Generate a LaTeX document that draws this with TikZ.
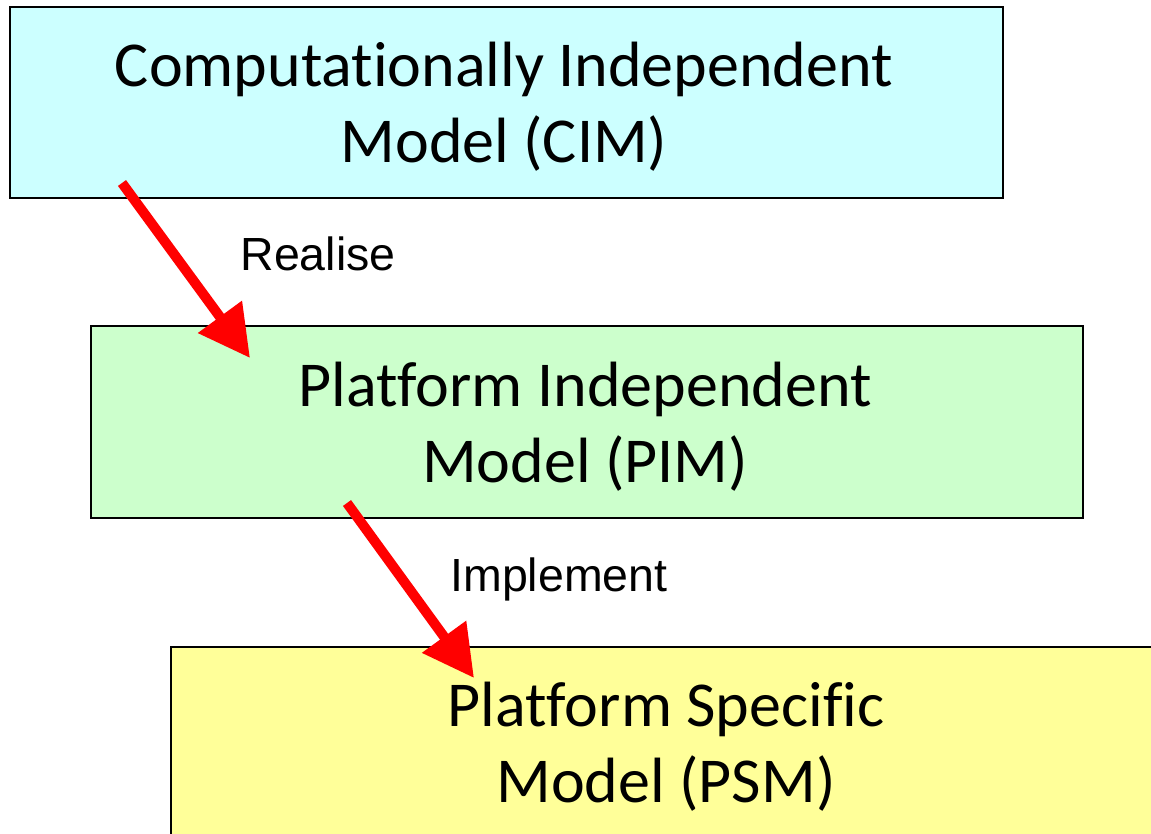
\documentclass[tikz,border=0pt]{standalone}
\usepackage{fontspec}
\setmainfont[Ligatures={NoCommon}]{Carlito}
\newfontfamily\lblfont{Liberation Sans}
\usetikzlibrary{arrows.meta}
\definecolor{cimfill}{HTML}{CCFFFF}
\definecolor{pimfill}{HTML}{CCFFCC}
\definecolor{psmfill}{HTML}{FFFF99}
\definecolor{arrowred}{HTML}{FF0000}
\begin{document}
\begin{tikzpicture}[x=1pt,y=-1pt,
  modelbox/.style={draw=black, line width=2pt, rectangle, inner sep=0pt},
  boxtext/.style={font=\fontsize{64}{76}\selectfont, align=center, anchor=base, inner sep=0pt},
  lbl/.style={font=\lblfont\fontsize{46.5}{55}\selectfont, anchor=base, inner sep=0pt},
  conn/.style={draw=arrowred, line width=10pt, -{Triangle[length=51pt,width=52pt]}}]
\useasboundingbox (0,0) rectangle (1151,834);
\node[modelbox, fill=cimfill, minimum width=993pt, minimum height=191pt] (cim) at (506.5,102.5) {};
\node[modelbox, fill=pimfill, minimum width=992pt, minimum height=192pt] (pim) at (587,422) {};
\node[modelbox, fill=psmfill, minimum width=1000pt, minimum height=200pt] (psm) at (671,747) {};
\node[boxtext] (cimtext) at (504,163) {Computationally Independent\ \\Model (CIM)};
\node[boxtext] (pimtext) at (585,482) {Platform Independent\ \\Model (PIM)};
\node[boxtext] (psmtext) at (666,802) {Platform Specific\ \\Model (PSM)};
\node[lbl] (realise) at (318,271) {Realise};
\node[lbl] (implement) at (559,591) {Implement};
\coordinate (a1s) at (122,183);
\coordinate (a1e) at (250,358);
\coordinate (a2s) at (347,503);
\coordinate (a2e) at (474,678);
\draw[conn] (a1s) -- (a1e);
\draw[conn] (a2s) -- (a2e);
\end{tikzpicture}
\end{document}
